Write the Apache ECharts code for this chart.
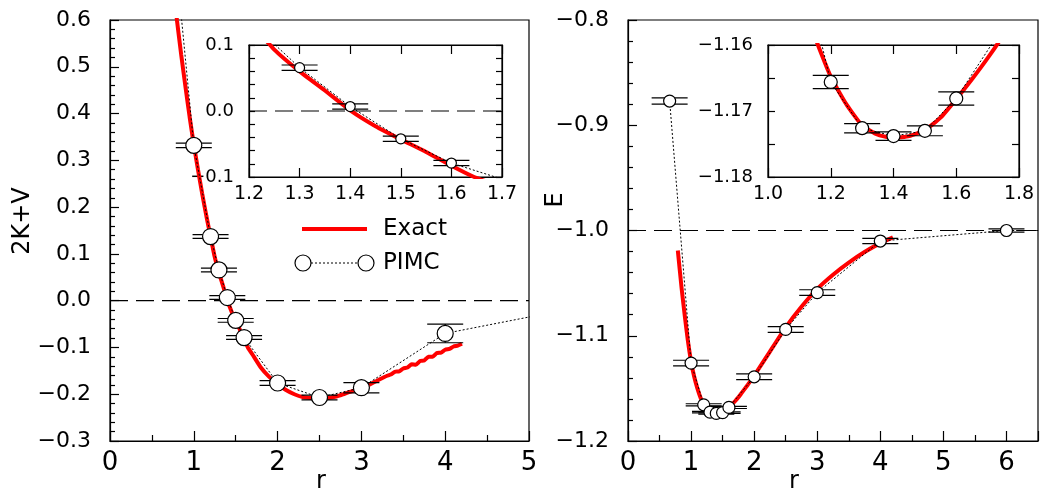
<!DOCTYPE html>
<html>
<head>
<meta charset="utf-8">
<script src="https://cdn.jsdelivr.net/npm/echarts@6/dist/echarts.min.js"></script>
<style>html,body{margin:0;padding:0;background:#fff;}#c{width:1041px;height:490px;}</style>
</head>
<body>
<div id="c"></div>
<script>
// ---------- data ----------
const rPIMC       = [0.66, 1.0, 1.2, 1.3, 1.4, 1.5, 1.6, 2.0, 2.5, 3.0, 4.0, 6.0, 8.0];
const virialPIMC  = [0.96, 0.332, 0.137, 0.0657, 0.0067, -0.0421, -0.0789, -0.176, -0.207, -0.186, -0.070, 0.000, 0.000];
const virialErr   = [0.005, 0.005, 0.004, 0.004, 0.004, 0.004, 0.004, 0.005, 0.005, 0.011, 0.020, 0.004, 0.004];
const energyPIMC  = [-0.877, -1.126, -1.1656, -1.1726, -1.1738, -1.1730, -1.1681, -1.139, -1.094, -1.059, -1.010, -1.000, -1.000];
const energyErr   = [0.003, 0.0027, 0.001, 0.0007, 0.00065, 0.00075, 0.001, 0.0027, 0.0027, 0.0027, 0.0025, 0.0016, 0.0016];

const rExactV = [0.79,0.8,0.85,0.9,0.95,1.0,1.05,1.1,1.15,1.2,1.25,1.3,1.35,1.4,1.45,1.5,1.55,1.6,1.645,1.7,1.8,1.9,2.0,2.1,2.2,2.3,2.4,2.5,2.6,2.7,2.8,2.9,3.0,3.1,3.2,3.3,3.35,3.4,3.45,3.5,3.55,3.6,3.65,3.7,3.75,3.8,3.85,3.9,3.95,4.0,4.05,4.1,4.15,4.2];
const virialExact = [0.615,0.598,0.525,0.458,0.393,0.334,0.280,0.229,0.181,0.137,0.093,0.060,0.031,0.001,-0.023,-0.043,-0.062,-0.083,-0.100,-0.115,-0.143,-0.163,-0.178,-0.191,-0.200,-0.206,-0.208,-0.209,-0.208,-0.205,-0.199,-0.193,-0.188,-0.179,-0.170,-0.161,-0.158,-0.152,-0.151,-0.145,-0.143,-0.136,-0.137,-0.129,-0.128,-0.120,-0.120,-0.112,-0.111,-0.105,-0.103,-0.098,-0.096,-0.092];

const rExactE = [0.79,0.85,0.9,0.95,1.0,1.05,1.1,1.15,1.2,1.25,1.3,1.35,1.4,1.45,1.5,1.55,1.6,1.65,1.7,1.75,1.8,1.9,2.0,2.25,2.5,2.75,3.0,3.25,3.5,3.75,4.0,4.2];
const energyExact = [-1.019,-1.055,-1.081,-1.105,-1.1245,-1.139,-1.150,-1.1588,-1.1648,-1.1690,-1.1722,-1.1736,-1.1741,-1.1738,-1.1729,-1.1710,-1.1682,-1.1652,-1.1620,-1.1585,-1.1545,-1.1465,-1.138,-1.115,-1.092,-1.0725,-1.0555,-1.042,-1.0305,-1.0205,-1.012,-1.0065];

const leftXTicks  = [0, 5, 1];      // min, max, interval
const leftYTicks  = [-0.3, 0.6, 0.1];
const rightXTicks = [0, 6.5, 1];
const rightYTicks = [-1.2, -0.8, 0.1];
const lInsetX = [1.2, 1.7, 0.1], lInsetY = [-0.1, 0.1, 0.02];
const rInsetX = [1.0, 1.8, 0.2], rInsetY = [-1.18, -1.16, 0.005];
const virialRef = 0.0, energyRef = -1.0;
const legendLabels = ['Exact', 'PIMC'];
const axisTitles = { x: 'r', yLeft: '2K+V', yRight: 'E' };

// ---------- helpers ----------
const FONT = 'DejaVu Sans';
const zip = (a, b) => a.map((v, i) => [v, b[i]]);
const zip3 = (a, b, c) => a.map((v, i) => [v, b[i], c[i]]);
const fmt = d => v => { let s = v.toFixed(d); if (parseFloat(s) === 0) s = (0).toFixed(d); return s.replace('-', '\u2212'); };

function errRender(params, api) {
  const x = api.value(0), y = api.value(1), e = api.value(2);
  const hi = api.coord([x, y + e]), lo = api.coord([x, y - e]);
  const hw = 18;
  const st = { stroke: '#000', lineWidth: 1.2 };
  return { type: 'group', children: [
    { type: 'line', shape: { x1: hi[0], y1: hi[1], x2: lo[0], y2: lo[1] }, style: st },
    { type: 'line', shape: { x1: hi[0] - hw, y1: hi[1], x2: hi[0] + hw, y2: hi[1] }, style: st },
    { type: 'line', shape: { x1: lo[0] - hw, y1: lo[1], x2: lo[0] + hw, y2: lo[1] }, style: st }
  ]};
}

function axis(gi, pos, t, o) {
  o = o || {};
  return {
    type: 'value', gridIndex: gi, position: pos,
    min: t[0], max: t[1], interval: t[2],
    axisLine: { show: true, onZero: false, lineStyle: { color: '#000', width: 1.2 } },
    axisTick: { show: true, inside: true, length: o.tickLen || 9, lineStyle: { color: '#000', width: 1.2 } },
    minorTick: o.minor ? { show: true, splitNumber: o.minor, length: o.minorLen || 5, lineStyle: { color: '#000', width: 1.2 } } : { show: false },
    splitLine: { show: false },
    axisLabel: o.noLabel ? { show: false } : {
      show: true, margin: o.margin, color: '#000', fontFamily: FONT, fontSize: o.fs,
      formatter: o.formatter, showMinLabel: true, showMaxLabel: true
    }
  };
}

function panelSeries(xi, yi, pimc, err, exact, ref, refRange, symSize) {
  const s = [
    { type: 'line', xAxisIndex: xi, yAxisIndex: yi, data: exact, showSymbol: false, smooth: 0.15, clip: true,
      lineStyle: { color: '#ff0000', width: 4 }, z: 1, silent: true },
    { type: 'line', xAxisIndex: xi, yAxisIndex: yi, data: pimc, showSymbol: false, clip: true,
      lineStyle: { color: '#000', width: 1, type: [2, 2] }, z: 2, silent: true },
    { type: 'custom', xAxisIndex: xi, yAxisIndex: yi, data: err, renderItem: errRender, clip: true, z: 3, silent: true },
    { type: 'scatter', xAxisIndex: xi, yAxisIndex: yi, data: pimc, symbol: 'circle', symbolSize: symSize, clip: true,
      itemStyle: { color: '#fff', borderColor: '#000', borderWidth: 1.2, opacity: 1 }, z: 4, silent: true }
  ];
  if (ref !== null) {
    s.push({ type: 'line', xAxisIndex: xi, yAxisIndex: yi, data: [[refRange[0], ref], [refRange[1], ref]], showSymbol: false,
      lineStyle: { color: '#000', width: 1.2, type: [18, 8] }, z: 0, silent: true });
  }
  return s;
}

const vPIMC = zip(rPIMC, virialPIMC), vErr = zip3(rPIMC, virialPIMC, virialErr), vEx = zip(rExactV, virialExact);
const ePIMC = zip(rPIMC, energyPIMC), eErr = zip3(rPIMC, energyPIMC, energyErr), eEx = zip(rExactE, energyExact);

const titleStyle = t => ({ text: t, fontFamily: FONT, fontSize: 24, fill: '#000', align: 'center', verticalAlign: 'middle' });

const chart = echarts.init(document.getElementById('c'), null, { renderer: 'canvas' });
chart.setOption({
  animation: false,
  backgroundColor: '#fff',
  grid: [
    { left: 110, top: 20, width: 419, height: 421, show: true, borderColor: '#000', borderWidth: 1.2, backgroundColor: 'transparent' },
    { left: 249, top: 45, width: 253, height: 132, show: true, borderColor: '#000', borderWidth: 1.2, backgroundColor: '#fff' },
    { left: 628, top: 20, width: 419, height: 421, show: true, borderColor: '#000', borderWidth: 1.2, backgroundColor: 'transparent' },
    { left: 768, top: 45, width: 251, height: 132, show: true, borderColor: '#000', borderWidth: 1.2, backgroundColor: '#fff' }
  ],
  xAxis: [
    axis(0, 'bottom', leftXTicks, { minor: 2, tickLen: 10, minorLen: 6, margin: 9, fs: 26, formatter: v => String(Math.round(v)) }),
    axis(1, 'bottom', lInsetX, { tickLen: 9, margin: 8, fs: 19, formatter: fmt(1) }),
    axis(1, 'top', lInsetX, { tickLen: 9, noLabel: true }),
    axis(2, 'bottom', rightXTicks, { minor: 2, tickLen: 10, minorLen: 6, margin: 9, fs: 26,
      formatter: v => Math.abs(v - Math.round(v)) < 1e-9 ? String(Math.round(v)) : '' }),
    axis(3, 'bottom', rInsetX, { tickLen: 9, margin: 8, fs: 19, formatter: fmt(1) }),
    axis(3, 'top', rInsetX, { tickLen: 9, noLabel: true })
  ],
  yAxis: [
    axis(0, 'left', leftYTicks, { minor: 5, tickLen: 9, minorLen: 5, margin: 19, fs: 22, formatter: fmt(1) }),
    axis(1, 'left', lInsetY, { tickLen: 6, margin: 15, fs: 18, formatter: v => Math.round(v * 100) % 10 === 0 ? fmt(1)(v) : '' }),
    axis(1, 'right', lInsetY, { tickLen: 6, noLabel: true }),
    axis(2, 'left', rightYTicks, { minor: 5, tickLen: 9, minorLen: 5, margin: 19, fs: 22, formatter: fmt(1) }),
    axis(3, 'left', rInsetY, { tickLen: 7, margin: 15, fs: 18, formatter: v => Math.round(v * 1000) % 10 === 0 ? fmt(2)(v) : '' }),
    axis(3, 'right', rInsetY, { tickLen: 7, noLabel: true })
  ],
  series: [].concat(
    panelSeries(0, 0, vPIMC, vErr, vEx, virialRef, [leftXTicks[0], leftXTicks[1]], 16),
    panelSeries(1, 1, vPIMC, vErr, vEx, virialRef, [lInsetX[0], lInsetX[1]], 10),
    panelSeries(3, 3, ePIMC, eErr, eEx, energyRef, [rightXTicks[0], rightXTicks[1]], 12),
    panelSeries(4, 4, ePIMC, eErr, eEx, null, null, 13)
  ),
  graphic: [
    // axis titles
    { type: 'text', x: 23, y: 221, rotation: Math.PI / 2, style: titleStyle(axisTitles.yLeft), z: 10 },
    { type: 'text', x: 556, y: 200, rotation: Math.PI / 2, style: titleStyle(axisTitles.yRight), z: 10 },
    { type: 'text', x: 321, y: 482, style: titleStyle(axisTitles.x), z: 10 },
    { type: 'text', x: 794, y: 482, style: titleStyle(axisTitles.x), z: 10 },
    // legend
    { type: 'line', shape: { x1: 302, y1: 229, x2: 367, y2: 229 }, style: { stroke: '#ff0000', lineWidth: 4 }, z: 10 },
    { type: 'text', x: 383, y: 229, style: { text: legendLabels[0], fontFamily: FONT, fontSize: 23, fill: '#000', verticalAlign: 'middle', align: 'left' }, z: 10 },
    { type: 'line', shape: { x1: 303, y1: 263, x2: 366, y2: 263 }, style: { stroke: '#000', lineWidth: 1, lineDash: [2, 2] }, z: 10 },
    { type: 'circle', shape: { cx: 303, cy: 263, r: 8 }, style: { fill: '#fff', stroke: '#000', lineWidth: 1.2 }, z: 11 },
    { type: 'circle', shape: { cx: 366, cy: 263, r: 8 }, style: { fill: '#fff', stroke: '#000', lineWidth: 1.2 }, z: 11 },
    { type: 'text', x: 383, y: 263, style: { text: legendLabels[1], fontFamily: FONT, fontSize: 23, fill: '#000', verticalAlign: 'middle', align: 'left' }, z: 10 }
  ]
});
</script>
</body>
</html>
